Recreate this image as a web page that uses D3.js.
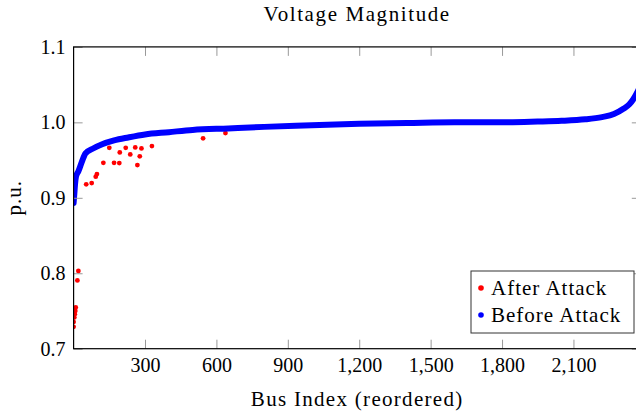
<!DOCTYPE html>
<html>
<head>
<meta charset="utf-8">
<script src="https://cdn.jsdelivr.net/npm/d3@7"></script>
<style>
  body { margin: 0; background: #fff; }
  text { font-family: "Liberation Serif", "DejaVu Serif", serif; fill: #000; }
</style>
</head>
<body>
<script>
// sorted bus voltages before the attack
const beforeIdx = [0, 3, 6, 10, 20, 35, 50, 80, 120, 170, 230, 300, 400, 500, 650, 800,
    1000, 1200, 1400, 1600, 1800, 1950, 2050, 2150, 2220, 2270, 2310, 2335, 2350, 2365, 2383];
const beforeV = [0.893, 0.905, 0.918, 0.928, 0.935, 0.948, 0.959, 0.965, 0.971, 0.976, 0.980,
    0.984, 0.987, 0.990, 0.992, 0.994, 0.996, 0.998, 0.999, 1.000, 1.000, 1.001, 1.002, 1.004,
    1.007, 1.011, 1.018, 1.024, 1.030, 1.038, 1.050];

// buses whose voltage moved after the attack
const afterIdx = [0, 0, 3, 5, 7, 9, 16, 20, 53, 76, 93, 98, 125, 150, 170, 192, 194, 219,
    238, 259, 268, 278, 285, 329, 544, 638];
const afterV = [0.729, 0.7355, 0.7414, 0.7457, 0.750, 0.7546, 0.7905, 0.803, 0.9178, 0.9195,
    0.928, 0.9314, 0.9464, 0.9663, 0.9464, 0.946, 0.9602, 0.9663, 0.9575, 0.9668, 0.9434,
    0.955, 0.9655, 0.9686, 0.9788, 0.9858];

const xTicks = [300, 600, 900, 1200, 1500, 1800, 2100];
const yTicks = [0.7, 0.8, 0.9, 1.0, 1.1];

const W = 636, H = 411;
const pLeft = 73.6, pRight = 640.8, pTop = 46.9, pBottom = 348.7;

const svg = d3.select("body").append("svg")
    .attr("width", W)
    .attr("height", H);

const x = d3.scaleLinear().domain([0, 2383]).range([pLeft, pRight]);
const y = d3.scaleLinear().domain([0.7, 1.1]).range([pBottom, pTop]);

svg.append("clipPath").attr("id", "plotclip")
    .append("rect")
    .attr("x", pLeft).attr("y", pTop)
    .attr("width", pRight - pLeft).attr("height", pBottom - pTop);

const plot = svg.append("g").attr("clip-path", "url(#plotclip)");

const after = afterIdx.map((d, i) => [d, afterV[i]]);
const before = beforeIdx.map((d, i) => [d, beforeV[i]]);

plot.selectAll("circle.after")
    .data(after)
    .enter()
    .append("circle")
    .attr("class", "after")
    .attr("cx", d => x(d[0]))
    .attr("cy", d => y(d[1]))
    .attr("r", 2.4)
    .attr("fill", "#ff0000");

const line = d3.line()
    .x(d => x(d[0]))
    .y(d => y(d[1]))
    .curve(d3.curveMonotoneX);

plot.append("path")
    .datum(before)
    .attr("d", line)
    .attr("fill", "none")
    .attr("stroke", "#0000ff")
    .attr("stroke-width", 6)
    .attr("stroke-linecap", "round")
    .attr("stroke-linejoin", "round");

// axes, ticks pointing inward like pgfplots
function styleAxis(g) {
    g.select(".domain").remove();
    g.selectAll(".tick line").attr("stroke", "#999").attr("stroke-width", 1);
    g.selectAll(".tick text").style("font-size", "20px").attr("fill", "#000")
        .style("font-family", "'Liberation Serif', serif");
}

svg.append("g")
    .attr("transform", "translate(0," + pBottom + ")")
    .call(d3.axisBottom(x).tickValues(xTicks).tickFormat(d3.format(","))
        .tickSizeInner(-9).tickSizeOuter(0).tickPadding(9))
    .call(styleAxis);

svg.append("g")
    .attr("transform", "translate(0," + pTop + ")")
    .call(d3.axisTop(x).tickValues(xTicks).tickFormat("")
        .tickSizeInner(-9).tickSizeOuter(0))
    .call(styleAxis);

svg.append("g")
    .attr("transform", "translate(" + pLeft + ",0)")
    .call(d3.axisLeft(y).tickValues(yTicks).tickFormat(d3.format(".1f"))
        .tickSizeInner(-9).tickSizeOuter(0).tickPadding(8))
    .call(styleAxis);

svg.append("g")
    .attr("transform", "translate(" + pRight + ",0)")
    .call(d3.axisRight(y).tickValues(yTicks).tickFormat("")
        .tickSizeInner(-9).tickSizeOuter(0))
    .call(styleAxis);

svg.append("rect")
    .attr("x", pLeft).attr("y", pTop)
    .attr("width", pRight - pLeft).attr("height", pBottom - pTop)
    .attr("fill", "none")
    .attr("stroke", "#000")
    .attr("stroke-width", 1.2);

// titles
svg.append("text")
    .attr("x", (pLeft + pRight) / 2)
    .attr("y", 21)
    .attr("text-anchor", "middle")
    .style("font-size", "21px")
    .style("letter-spacing", "1.6px")
    .text("Voltage Magnitude");

svg.append("text")
    .attr("x", (pLeft + pRight) / 2)
    .attr("y", 406)
    .attr("text-anchor", "middle")
    .style("font-size", "21px")
    .style("letter-spacing", "1.3px")
    .text("Bus Index (reordered)");

svg.append("text")
    .attr("transform", "translate(21," + ((pTop + pBottom) / 2) + ") rotate(-90)")
    .attr("text-anchor", "middle")
    .style("font-size", "21px")
    .style("letter-spacing", "1px")
    .text("p.u.");

// legend
const legend = svg.append("g").attr("transform", "translate(471,271)");
legend.append("rect")
    .attr("width", 163).attr("height", 62)
    .attr("fill", "#fff")
    .attr("stroke", "#333")
    .attr("stroke-width", 1);

const legendItems = [
    { name: "After Attack", color: "#ff0000" },
    { name: "Before Attack", color: "#0000ff" }
];

const item = legend.selectAll("g.item")
    .data(legendItems)
    .enter()
    .append("g")
    .attr("class", "item")
    .attr("transform", (d, i) => "translate(0," + (17 + i * 27) + ")");

item.append("circle")
    .attr("cx", 10)
    .attr("cy", 0)
    .attr("r", 2.8)
    .attr("fill", d => d.color);

item.append("text")
    .attr("x", 20)
    .attr("y", 7)
    .style("font-size", "21px")
    .style("letter-spacing", "1px")
    .text(d => d.name);
</script>
</body>
</html>
